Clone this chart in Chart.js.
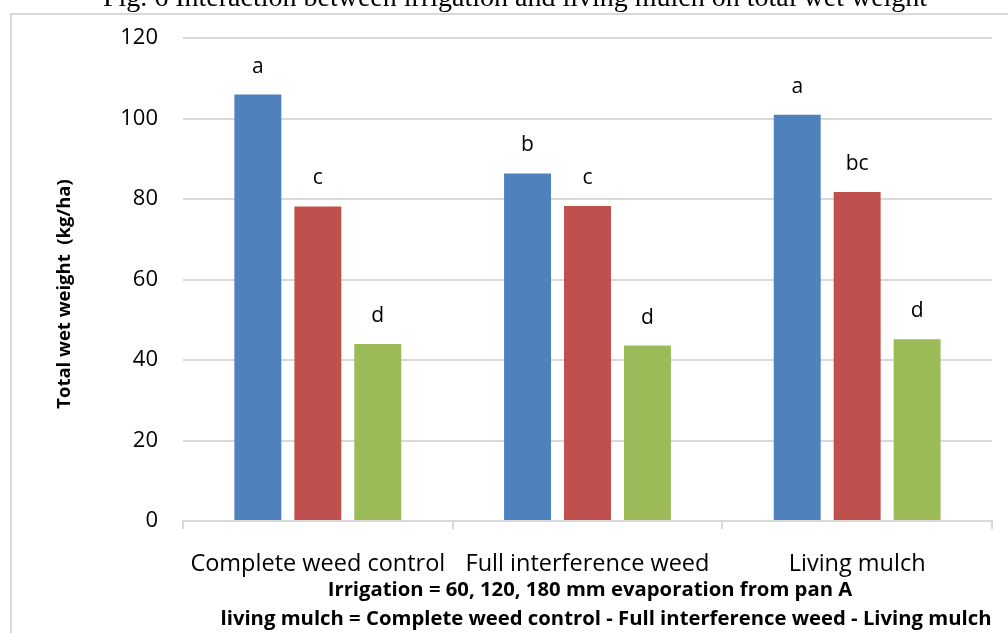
<!DOCTYPE html>
<html>
<head>
<meta charset="utf-8">
<script src="https://cdn.jsdelivr.net/npm/chart.js@4.4.0/dist/chart.umd.min.js"></script>
<style>
  html, body { margin: 0; padding: 0; background: #fff; }
  #wrap { width: 1008px; height: 633px; position: relative; }
</style>
</head>
<body>
<div id="wrap"><canvas id="weightChart" width="1008" height="633"></canvas></div>
<script>
// Data
const categories = ['Complete weed control', 'Full interference weed', 'Living mulch'];
const irrigation60 = [106, 86.4, 101];
const irrigation120 = [78.2, 78.3, 81.8];
const irrigation180 = [44, 43.6, 45.2];
const letters60 = ['a', 'b', 'a'];
const letters120 = ['c', 'c', 'bc'];
const letters180 = ['d', 'd', 'd'];
const yTicks = [0, 20, 40, 60, 80, 100, 120];

const FONT = '"Open Sans", Lato, sans-serif';

// judul, bingkai, huruf signifikansi dan judul sumbu
const decorPlugin = {
  id: 'decor',
  beforeDraw(chart) {
    const ctx = chart.ctx;
    ctx.save();
    ctx.fillStyle = '#fff';
    ctx.fillRect(0, 0, chart.width, chart.height);
    ctx.strokeStyle = '#d9d9d9';
    ctx.lineWidth = 2;
    ctx.strokeRect(11, 14, 1100, 700);
    ctx.restore();
  },
  afterDraw(chart) {
    const ctx = chart.ctx;
    ctx.save();
    // judul terpotong di atas
    ctx.font = '28px "Liberation Serif", "DejaVu Serif", serif';
    ctx.fillStyle = '#000';
    ctx.textAlign = 'center';
    ctx.textBaseline = 'alphabetic';
    ctx.fillText('Fig. 6 Interaction between irrigation and living mulch on total wet weight', 515, 6);

    // huruf di atas batang
    const allLetters = [letters60, letters120, letters180];
    ctx.font = '21px ' + FONT;
    ctx.textBaseline = 'middle';
    chart.data.datasets.forEach((ds, i) => {
      const meta = chart.getDatasetMeta(i);
      meta.data.forEach((bar, j) => {
        ctx.fillText(allLetters[i][j], bar.x, bar.y - 28);
      });
    });

    // judul sumbu x (dua baris)
    ctx.font = 'bold 20.3px ' + FONT;
    ctx.fillText('Irrigation = 60, 120, 180 mm evaporation from pan A', 590, 590);
    ctx.fillText('living mulch = Complete weed control - Full interference weed - Living mulch', 606, 619);

    // judul sumbu y
    ctx.translate(65, 294);
    ctx.rotate(-Math.PI / 2);
    ctx.font = 'bold 18.5px ' + FONT;
    ctx.fillText('Total wet weight  (kg/ha)', 0, 0);
    ctx.restore();
  }
};

const ctx = document.getElementById('weightChart').getContext('2d');
window.weightChart = new Chart(ctx, {
  type: 'bar',
  data: {
    labels: categories,
    datasets: [
      { label: '60 mm', data: irrigation60, backgroundColor: '#4F81BD', categoryPercentage: 0.667, barPercentage: 0.783 },
      { label: '120 mm', data: irrigation120, backgroundColor: '#C0504D', categoryPercentage: 0.667, barPercentage: 0.783 },
      { label: '180 mm', data: irrigation180, backgroundColor: '#9BBB59', categoryPercentage: 0.667, barPercentage: 0.783 }
    ]
  },
  options: {
    responsive: false,
    animation: false,
    layout: { padding: { left: 0, top: 34, right: 16, bottom: 0 } },
    plugins: {
      legend: { display: false },
      title: { display: false },
      tooltip: { enabled: false }
    },
    scales: {
      x: {
        grid: { display: true, drawOnChartArea: false, drawTicks: true, tickLength: 8, color: '#d9d9d9', lineWidth: 2, offset: true },
        border: { display: true, color: '#d9d9d9', width: 2 },
        ticks: { color: '#000', font: { family: FONT, size: 23.5 }, padding: 21, maxRotation: 0, autoSkip: false },
        afterFit(scale) { scale.height = 112; }
      },
      y: {
        min: 0,
        max: 120,
        afterBuildTicks(scale) { scale.ticks = yTicks.map(v => ({ value: v })); },
        grid: { color: '#d9d9d9', lineWidth: 2, drawTicks: false },
        border: { display: false },
        ticks: { color: '#000', font: { family: FONT, size: 22 }, padding: 25 },
        afterFit(scale) { scale.width = 183; }
      }
    }
  },
  plugins: [decorPlugin]
});
</script>
</body>
</html>
